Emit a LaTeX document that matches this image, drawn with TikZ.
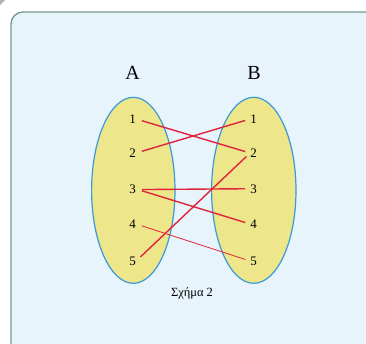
\documentclass[tikz,border=0pt]{standalone}
\usepackage{fontspec}
\setmainfont{Liberation Serif}
\definecolor{framec}{HTML}{6F9A8D}
\definecolor{bgc}{HTML}{E8F4FC}
\definecolor{ellc}{HTML}{EDE68A}
\definecolor{ellb}{HTML}{3A9AD9}
\definecolor{redc}{HTML}{E0243C}
\tikzset{
  setell/.style={draw=ellb, line width=1.2pt, fill=ellc},
  num/.style={inner sep=0pt, font=\fontsize{13}{15}\selectfont},
  setlabel/.style={inner sep=0pt, font=\fontsize{20}{22}\selectfont},
  map/.style={draw=redc, line width=1.4pt, shorten <=6pt, shorten >=5pt},
}
\begin{document}
\begin{tikzpicture}[x=1pt,y=-1pt]
\useasboundingbox (0,0) rectangle (366,343);
\draw[framec, line width=1.3pt, fill=bgc, rounded corners=12pt] (11,12) rectangle (380,360);
\fill[gray!60] (0,0) -- (5,0) -- (0,5) -- cycle;
\draw[setell] (133.3,190.3) ellipse [x radius=41.7, y radius=93];
\draw[setell] (253.8,190.3) ellipse [x radius=42.2, y radius=93];
\node[setlabel] (A) at (132.5,73) {A};
\node[setlabel] (B) at (254,73) {B};
\foreach \i/\y in {1/119,2/153,3/189,4/224,5/261}{
  \node[num] (a\i) at (132.7,\y) {\i};
  \node[num] (b\i) at (253.5,\y) {\i};
}
\draw[map] (a1.east) -- (b2.west);
\draw[map] (a2.east) -- (b1.west);
\draw[map] ([yshift=-0.6pt]a3.east) -- ([yshift=0.3pt]b3.west);
\draw[map] (a3.east) -- (b4.west);
\draw[map, line width=0.8pt] (a4.east) -- (b5.west);
\draw[map] (a5.east) -- (b2.west);
\node[inner sep=0pt, font=\fontsize{12.5}{14}\selectfont] (cap) at (192,293) {Σχήμα 2};
\end{tikzpicture}
\end{document}
